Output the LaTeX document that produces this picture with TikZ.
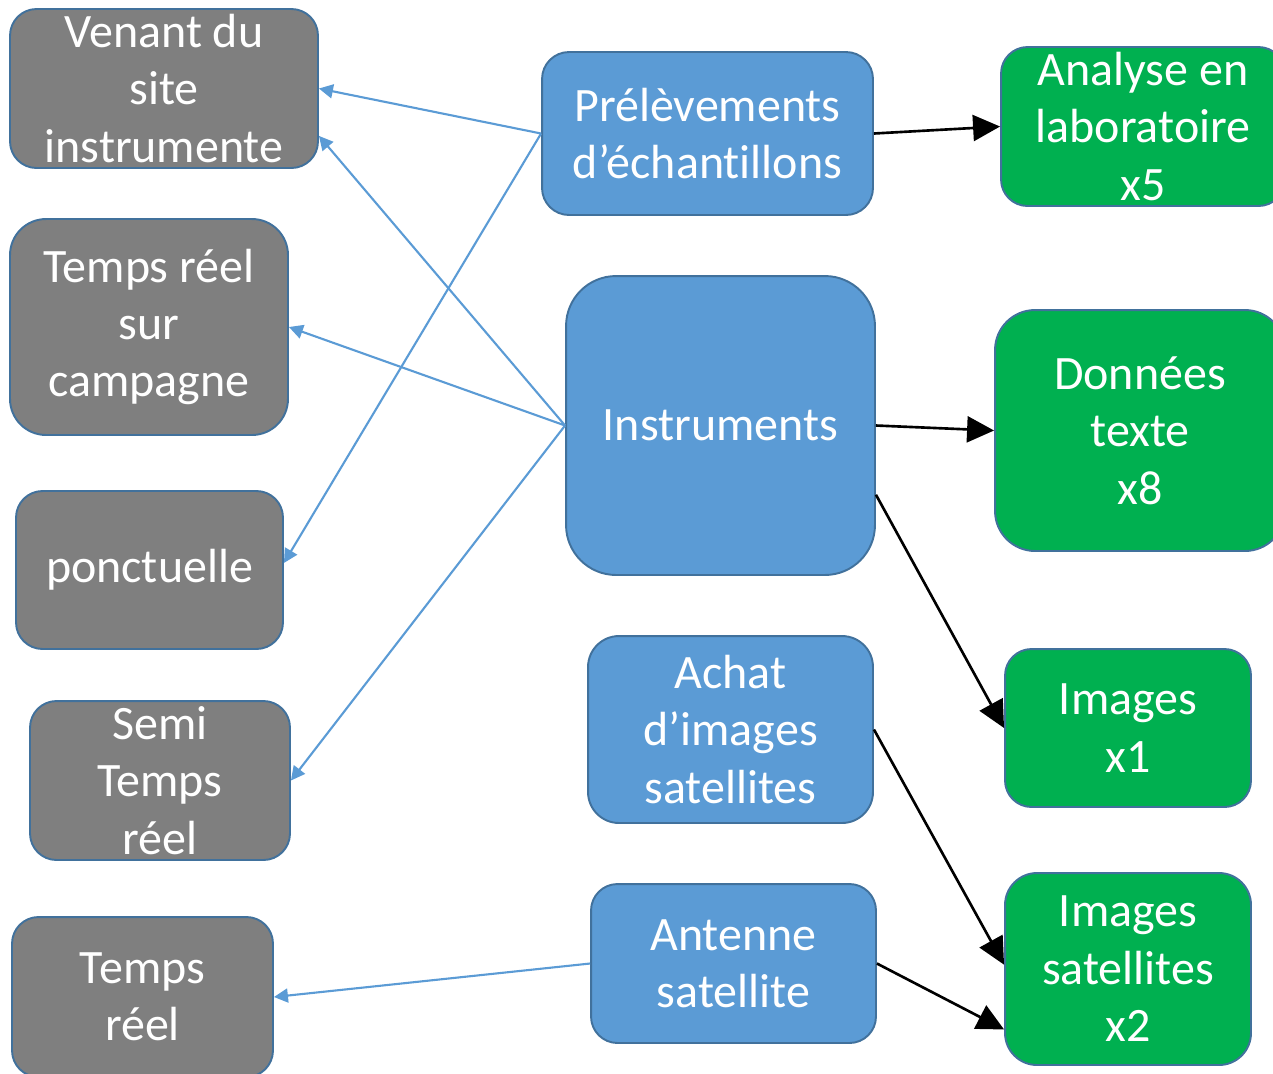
\documentclass[tikz,border=0pt]{standalone}
\usepackage{fontspec}
\setmainfont{Carlito}[RawFeature={-liga;-clig;-calt;-dlig}]
\usepackage{tikz}
\usetikzlibrary{arrows.meta}

\definecolor{boxline}{HTML}{41719C}
\definecolor{grayfill}{HTML}{7F7F7F}
\definecolor{bluefill}{HTML}{5B9BD5}
\definecolor{greenfill}{HTML}{00B050}

\begin{document}
\begin{tikzpicture}[x=0.02cm,y=-0.02cm,
                box/.style={draw=boxline,line width=1.1pt,text=white,align=center,
                    inner sep=1pt,font=\fontsize{27.3}{32.7}\selectfont},
                graybox/.style={box,fill=grayfill},
                bluebox/.style={box,fill=bluefill},
                greenbox/.style={box,fill=greenfill},
                bluearrow/.style={draw=bluefill,line width=1.2pt,
                    -{Triangle[length=0.28cm,width=0.28cm]}},
                blackarrow/.style={draw=black,line width=1.5pt,
                    -{Triangle[length=0.54cm,width=0.52cm]}}]
                \useasboundingbox (0,0) rectangle (1273,1073);

                \node[graybox,minimum width=6.16cm,minimum height=3.18cm,rounded corners=0.53cm]
                (venant) at (164,88.5) {Venant du\\site\\instrumente};
                \node[graybox,minimum width=5.56cm,minimum height=4.32cm,rounded corners=0.72cm]
                (campagne) at (149,327) {Temps réel\\sur\\campagne};
                \node[graybox,minimum width=5.34cm,minimum height=3.16cm,rounded corners=0.53cm]
                (ponct) at (149.5,570) {ponctuelle};
                \node[graybox,minimum width=5.2cm,minimum height=3.18cm,rounded corners=0.53cm]
                (semi) at (160,780.5) {Semi\\Temps\\réel};
                \node[graybox,minimum width=5.22cm,minimum height=3.2cm,rounded corners=0.53cm]
                (tempsreel) at (142.5,997) {Temps\\réel};

                \node[bluebox,minimum width=6.62cm,minimum height=3.26cm,rounded corners=0.54cm]
                (prelev) at (707.5,133.5) {Prélèvements\\d’échantillons};
                \node[bluebox,minimum width=6.18cm,minimum height=5.98cm,rounded corners=1cm]
                (instr) at (720.5,425.5) {Instruments};
                \node[bluebox,minimum width=5.7cm,minimum height=3.74cm,rounded corners=0.62cm]
                (achat) at (730.5,729.5) {Achat\\d’images\\satellites};
                \node[bluebox,minimum width=5.7cm,minimum height=3.18cm,rounded corners=0.53cm]
                (antenne) at (733.5,963.5) {Antenne\\satellite};

                \node[greenbox,minimum width=5.68cm,minimum height=3.18cm,rounded corners=0.53cm]
                (analyse) at (1143,126.5) {Analyse en\\laboratoire\\x5};
                \node[greenbox,minimum width=5.8cm,minimum height=4.82cm,rounded corners=0.8cm]
                (donnees) at (1140,430.5) {Données\\texte\\x8};
                \node[greenbox,minimum width=4.92cm,minimum height=3.16cm,rounded corners=0.53cm]
                (imgun) at (1128,728) {Images\\x1};
                \node[greenbox,minimum width=4.92cm,minimum height=3.84cm,rounded corners=0.64cm]
                (imgsat) at (1128,969) {Images\\satellites\\x2};

                \draw[bluearrow] (prelev.west) -- (venant.east);
                \draw[bluearrow] (prelev.west) -- (ponct.3);
                \draw[bluearrow] (instr.west) -- (venant.-17);
                \draw[bluearrow] (instr.west) -- (campagne.east);
                \draw[bluearrow] (instr.west) -- (semi.east);
                \draw[bluearrow] (antenne.west) -- (tempsreel.east);

                \draw[blackarrow] (prelev.east) -- (analyse.west);
                \draw[blackarrow] (instr.east) -- (donnees.west);
                \draw[blackarrow] (instr.-24) -- (imgun.west);
                \draw[blackarrow] (achat.east) -- (imgsat.178);
                \draw[blackarrow] (antenne.east) -- (imgsat.206);
            \end{tikzpicture}
\end{document}
